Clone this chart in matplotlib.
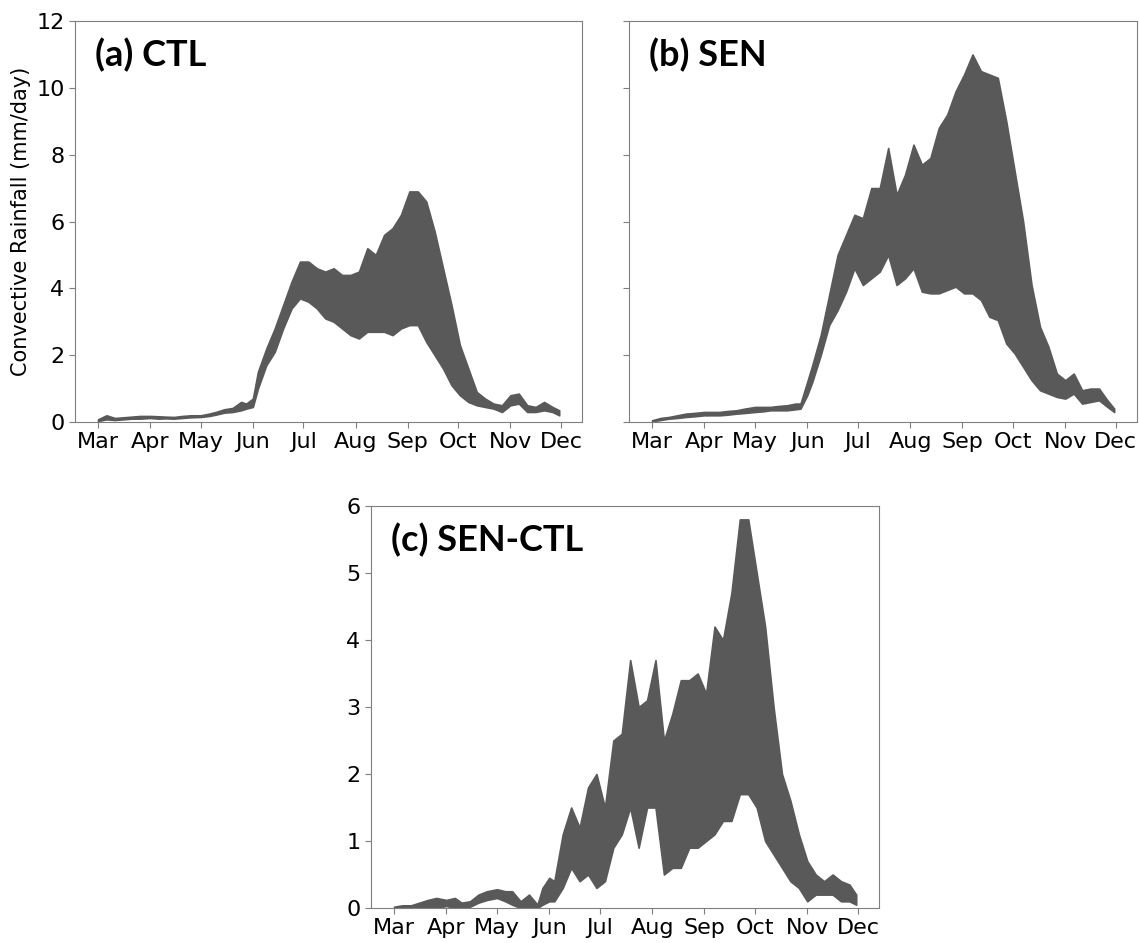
# Convective rainfall: CTL, SEN and SEN-CTL (diurnal band drawn as envelope)

import numpy as np
import matplotlib.pyplot as plt

# days since 1 March
days = [0, 5, 10, 15, 20, 25, 31, 36, 40, 45, 50, 55, 61, 66, 70, 75, 80, 85, 88,
        92, 95, 100, 105, 110, 115, 120, 125, 130, 135, 140, 145, 150, 155, 160,
        165, 170, 175, 180, 185, 190, 195, 200, 205, 210, 215, 220, 225, 230,
        235, 240, 245, 250, 255, 260, 265, 270, 274]

# (a) CTL lower / upper envelope (mm/day)
ctl_low = [0.03, 0.08, 0.06, 0.08, 0.1, 0.1, 0.12, 0.1, 0.11, 0.1, 0.12, 0.14, 0.15,
           0.18, 0.22, 0.28, 0.3, 0.35, 0.4,
           0.45, 1.0, 1.7, 2.1, 2.8, 3.4, 3.7, 3.6, 3.4, 3.1, 3.0, 2.8, 2.6, 2.5, 2.7,
           2.7, 2.7, 2.6, 2.8, 2.9, 2.9, 2.4, 2.0, 1.6, 1.1, 0.8, 0.6, 0.5, 0.45,
           0.4, 0.3, 0.5, 0.55, 0.3, 0.3, 0.35, 0.3, 0.2]
ctl_high = [0.08, 0.2, 0.12, 0.14, 0.16, 0.18, 0.18, 0.17, 0.16, 0.15, 0.18, 0.2, 0.2,
            0.25, 0.3, 0.38, 0.42, 0.6, 0.55,
            0.7, 1.5, 2.2, 2.8, 3.5, 4.2, 4.8, 4.8, 4.6, 4.5, 4.6, 4.4, 4.4, 4.5, 5.2,
            5.0, 5.6, 5.8, 6.2, 6.9, 6.9, 6.6, 5.7, 4.6, 3.5, 2.3, 1.6, 0.9, 0.7,
            0.55, 0.5, 0.8, 0.85, 0.5, 0.45, 0.6, 0.45, 0.35]

# (b) SEN lower / upper envelope (mm/day)
sen_low = [0.02, 0.06, 0.1, 0.12, 0.15, 0.17, 0.2, 0.2, 0.2, 0.22, 0.25, 0.27, 0.3,
           0.32, 0.35, 0.35, 0.35, 0.38, 0.4,
           0.8, 1.2, 2.0, 2.9, 3.35, 3.9, 4.6, 4.1, 4.3, 4.5, 5.0, 4.1, 4.3, 4.6, 3.9,
           3.85, 3.85, 3.95, 4.05, 3.85, 3.85, 3.65, 3.15, 3.05, 2.35, 2.05, 1.65,
           1.25, 0.95, 0.85, 0.75, 0.7, 0.85, 0.55, 0.6, 0.65, 0.45, 0.3]
sen_high = [0.05, 0.12, 0.15, 0.2, 0.25, 0.27, 0.3, 0.3, 0.3, 0.33, 0.35, 0.4, 0.45,
            0.45, 0.45, 0.48, 0.5, 0.55, 0.55,
            1.2, 1.7, 2.6, 3.8, 5.0, 5.6, 6.2, 6.1, 7.0, 7.0, 8.2, 6.8, 7.4, 8.3, 7.7,
            7.9, 8.8, 9.2, 9.9, 10.4, 11.0, 10.5, 10.4, 10.3, 9.0, 7.5, 6.0, 4.1,
            2.85, 2.25, 1.45, 1.25, 1.45, 0.95, 1.0, 1.0, 0.65, 0.4]

# (c) SEN-CTL lower / upper envelope (mm/day)
diff_low = [0.0, 0.0, 0.0, 0.0, 0.02, 0.0, 0.03, 0.0, 0.0, 0.02, 0.08, 0.12, 0.15,
            0.1, 0.05, 0.0, 0.0, 0.0, 0.05,
            0.1, 0.1, 0.3, 0.6, 0.4, 0.5, 0.3, 0.4, 0.9, 1.1, 1.5, 0.9, 1.5, 1.5, 0.5,
            0.6, 0.6, 0.9, 0.9, 1.0, 1.1, 1.3, 1.3, 1.7, 1.7, 1.5, 1.0, 0.8, 0.6,
            0.4, 0.3, 0.1, 0.2, 0.2, 0.2, 0.1, 0.1, 0.05]
diff_high = [0.02, 0.04, 0.04, 0.08, 0.12, 0.15, 0.12, 0.15, 0.08, 0.1, 0.2, 0.25, 0.28,
             0.25, 0.25, 0.1, 0.2, 0.05, 0.3,
             0.45, 0.4, 1.1, 1.5, 1.2, 1.8, 2.0, 1.5, 2.5, 2.6, 3.7, 3.0, 3.1, 3.7, 2.5,
             2.9, 3.4, 3.4, 3.5, 3.2, 4.2, 4.0, 4.7, 5.8, 5.8, 5.0, 4.2, 3.0, 2.0,
             1.6, 1.1, 0.7, 0.5, 0.4, 0.5, 0.4, 0.35, 0.2]

month_days = [0, 31, 61, 92, 122, 153, 184, 214, 245, 275]
month_labels = ["Mar", "Apr", "May", "Jun", "Jul", "Aug", "Sep", "Oct", "Nov", "Dec"]

band_color = "#595959"
spine_color = "#7f7f7f"

fig = plt.figure(figsize=(11.39, 9.43), dpi=100)
ax_a = fig.add_axes([0.0658, 0.5525, 0.4451, 0.4252])
ax_b = fig.add_axes([0.5522, 0.5525, 0.4460, 0.4252])
ax_c = fig.add_axes([0.3257, 0.0371, 0.4460, 0.4263])

panels = [(ax_a, ctl_low, ctl_high, "(a) CTL", 12, range(0, 13, 2)),
          (ax_b, sen_low, sen_high, "(b) SEN", 12, range(0, 13, 2)),
          (ax_c, diff_low, diff_high, "(c) SEN-CTL", 6, range(0, 7))]

for ax, low, high, title, ymax, yticks in panels:
    ax.fill_between(days, low, high, color=band_color, linewidth=1.2,
                    edgecolor=band_color)
    ax.set_xlim(-13.7, 287.5)
    ax.set_ylim(0, ymax)
    ax.set_xticks(month_days)
    ax.set_xticklabels(month_labels)
    ax.set_yticks(list(yticks))
    ax.tick_params(labelsize=16, color=spine_color, length=4)
    for s in ax.spines.values():
        s.set_color(spine_color)
    ax.text(0.04, 0.915, title, transform=ax.transAxes, fontsize=26,
            fontweight="bold", family="Lato", va="center", ha="left")

ax_b.set_yticklabels([])
ax_a.set_ylabel("Convective Rainfall (mm/day)", fontsize=15)

plt.savefig("out.png", dpi=100)
